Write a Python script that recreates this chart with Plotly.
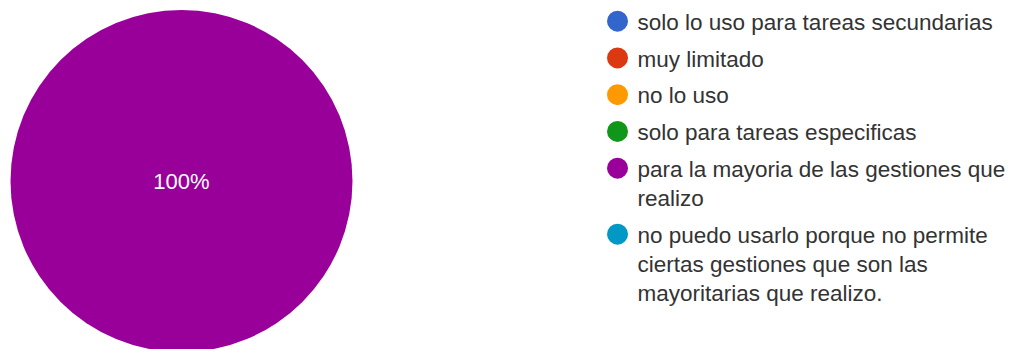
import plotly.graph_objects as go

labels = [
    "solo lo uso para tareas secundarias",
    "muy limitado",
    "no lo uso",
    "solo para tareas especificas",
    "para la mayoria de las gestiones que<br>realizo",
    "no puedo usarlo porque no permite<br>ciertas gestiones que son las<br>mayoritarias que realizo.",
]
values = [0, 0, 0, 0, 100, 0]
colors = ["#3366cc", "#dc3912", "#ff9900", "#109618", "#990099", "#0099c6"]

FONT = "Liberation Sans, Arial, sans-serif"

fig = go.Figure()
fig.add_trace(go.Pie(
    labels=labels,
    values=values,
    marker=dict(colors=colors),
    sort=False,
    direction="clockwise",
    textinfo="percent",
    texttemplate=["" if v == 0 else "%{percent:.0%}" for v in values],
    textposition="inside",
    insidetextfont=dict(color="white", size=22, family=FONT),
    showlegend=False,
    hoverinfo="label+percent",
    domain=dict(x=[0.01029, 0.34559], y=[0, 1]),
))

for i, (lab, col) in enumerate(zip(labels, colors)):
    fig.add_trace(go.Scatter(
        x=[None], y=[None], mode="markers", name=lab,
        legendgroup=f"g{i}",
        marker=dict(color=col, size=16, symbol="circle", line=dict(color=col, width=5)),
        showlegend=True, hoverinfo="skip",
    ))

fig.update_layout(
    width=1020, height=352,
    margin=dict(l=0, r=0, t=10, b=0),
    paper_bgcolor="white", plot_bgcolor="white",
    xaxis=dict(visible=False), yaxis=dict(visible=False),
    legend=dict(
        x=0.5858, xanchor="left", y=1.03, yanchor="top",
        font=dict(family=FONT, size=22.5, color="#333333"),
        tracegroupgap=4.5, itemsizing="trace", maxheight=500,
        valign="top",
        bgcolor="rgba(0,0,0,0)",
    ),
)

fig.write_html(
    "out.html",
    config={"displayModeBar": False},
    post_script="document.body.style.margin='0';document.body.style.overflow='hidden';",
)
